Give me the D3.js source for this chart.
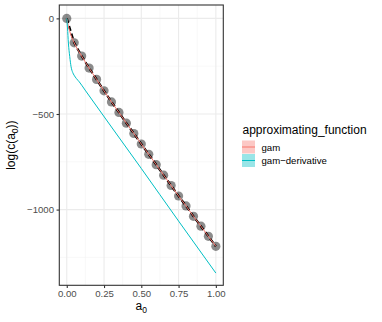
<!DOCTYPE html>
<html><head><meta charset="utf-8">
<script src="https://cdn.jsdelivr.net/npm/d3@7"></script>
<style>body{margin:0;background:#fff}svg{display:block;font-family:"Liberation Sans",Arial,sans-serif}</style>
</head><body><svg id="c" width="382" height="322"></svg>
<script>
// Data
const a0Points = [0,0.05,0.10,0.15,0.20,0.25,0.30,0.35,0.40,0.45,0.50,0.55,0.60,0.65,0.70,0.75,0.80,0.85,0.90,0.95,1.00];
const logcPoints = [0,-128,-197,-260,-319,-379,-437,-492,-548,-602,-657,-711,-765,-820,-874,-929,-981,-1035,-1087,-1140,-1192];
const gamX = [0,0.02,0.05,0.10,0.15,0.20,0.25,0.30,0.35,0.40,0.45,0.50,0.55,0.60,0.65,0.70,0.75,0.80,0.85,0.90,0.95,1.00];
const gamY = [0,-68,-128,-197,-260,-319,-379,-437,-492,-548,-602,-657,-711,-765,-820,-874,-929,-981,-1035,-1087,-1140,-1192];
const derivX = [0,0.005,0.011,0.02,0.029,0.04,0.049,0.065,0.084,0.123,0.30,0.50,0.75,1.00];
const derivY = [0,-50,-129,-200,-253,-283,-297,-315,-332,-375,-568,-785,-1060,-1332];
const xTicks = [0,0.25,0.5,0.75,1.0];
const xTickLabels = ["0.00","0.25","0.50","0.75","1.00"];
const yTicks = [0,-500,-1000];
const yTickLabels = ["0","\u2212500","\u22121000"];
const xMinor = [0.125,0.375,0.625,0.875];
const yMinor = [-250,-750,-1250];
const legendLabels = ["gam","gam\u2212derivative"];
const colors = ["#F8766D","#00BFC4"];

const svg = d3.select("#c");
const L=59.3,R=223.3,T=5,B=285.3;
const x = d3.scaleLinear().domain([-0.05,1.05]).range([L,R]);
const y = d3.scaleLinear().domain([70,-1396]).range([T,B]);

svg.append("rect").attr("x",L).attr("y",T).attr("width",R-L).attr("height",B-T).attr("fill","#fff");
const g = svg.append("g");
g.selectAll(".xmin").data(xMinor).enter().append("line").attr("x1",d=>x(d)).attr("x2",d=>x(d)).attr("y1",T).attr("y2",B).attr("stroke","#F2F2F2").attr("stroke-width",0.55);
g.selectAll(".ymin").data(yMinor).enter().append("line").attr("y1",d=>y(d)).attr("y2",d=>y(d)).attr("x1",L).attr("x2",R).attr("stroke","#F2F2F2").attr("stroke-width",0.55);
g.selectAll(".xmaj").data(xTicks).enter().append("line").attr("x1",d=>x(d)).attr("x2",d=>x(d)).attr("y1",T).attr("y2",B).attr("stroke","#EBEBEB").attr("stroke-width",1.1);
g.selectAll(".ymaj").data(yTicks).enter().append("line").attr("y1",d=>y(d)).attr("y2",d=>y(d)).attr("x1",L).attr("x2",R).attr("stroke","#EBEBEB").attr("stroke-width",1.1);

const line = d3.line().x(d=>x(d[0])).y(d=>y(d[1]));
const smooth = d3.line().x(d=>x(d[0])).y(d=>y(d[1])).curve(d3.curveMonotoneX);
// points
g.selectAll(".pt").data(a0Points.map((d,i)=>[d,logcPoints[i]])).enter().append("circle")
 .attr("cx",d=>x(d[0])).attr("cy",d=>y(d[1])).attr("r",4.6).attr("fill","#000").attr("fill-opacity",0.45);
// black dashed line
g.append("path").datum(a0Points.map((d,i)=>[d,logcPoints[i]])).attr("d",line).attr("fill","none")
 .attr("stroke","#000").attr("stroke-width",2.2).attr("stroke-dasharray","5,3");
// gam
g.append("path").datum(gamX.map((d,i)=>[d,gamY[i]])).attr("d",smooth).attr("fill","none").attr("stroke",colors[0]).attr("stroke-width",1);
// derivative
g.append("path").datum(derivX.map((d,i)=>[d,derivY[i]])).attr("d",smooth).attr("fill","none").attr("stroke",colors[1]).attr("stroke-width",1);

svg.append("rect").attr("x",L).attr("y",T).attr("width",R-L).attr("height",B-T).attr("fill","none").attr("stroke","#333").attr("stroke-width",1.1);

// axes
const xa = svg.append("g").attr("transform",`translate(0,${B})`)
 .call(d3.axisBottom(x).tickValues(xTicks).tickFormat((d,i)=>xTickLabels[i]).tickSize(2.75).tickPadding(2.5));
const ya = svg.append("g").attr("transform",`translate(${L},0)`)
 .call(d3.axisLeft(y).tickValues(yTicks).tickFormat((d,i)=>yTickLabels[i]).tickSize(2.75).tickPadding(2.5));
[xa,ya].forEach(a=>{a.select(".domain").remove();a.selectAll(".tick line").attr("stroke","#333").attr("stroke-width",1.1);
 a.selectAll("text").attr("fill","#4D4D4D").attr("font-size","9.6px").attr("font-family","Liberation Sans, Arial, sans-serif");});

// axis titles
const xt = svg.append("text").attr("x",(L+R)/2).attr("y",310).attr("text-anchor","middle").attr("font-size","12px").attr("fill","#000");
xt.append("tspan").text("a");
xt.append("tspan").attr("font-size","8.5px").attr("dy",3).text("0");
const yt = svg.append("text").attr("transform",`translate(15,${(T+B)/2}) rotate(-90)`).attr("text-anchor","middle").attr("font-size","12px").attr("fill","#000");
yt.append("tspan").text("log(c(a");
yt.append("tspan").attr("font-size","8.5px").attr("dy",3).text("0");
yt.append("tspan").attr("dy",-3).text("))");

// legend
svg.append("text").attr("x",242.5).attr("y",134).attr("font-size","12px").attr("fill","#000").text("approximating_function");
legendLabels.forEach((lab,i)=>{
  const yy = 140.5 + i*13.5;
  svg.append("rect").attr("x",242).attr("y",yy).attr("width",13).attr("height",13).attr("fill",colors[i]).attr("fill-opacity",0.4);
  svg.append("line").attr("x1",242).attr("x2",255).attr("y1",yy+6.5).attr("y2",yy+6.5).attr("stroke",colors[i]).attr("stroke-width",1);
  svg.append("text").attr("x",261.5).attr("y",yy+10).attr("font-size","9.6px").attr("fill","#000").text(lab);
});
</script></body></html>
